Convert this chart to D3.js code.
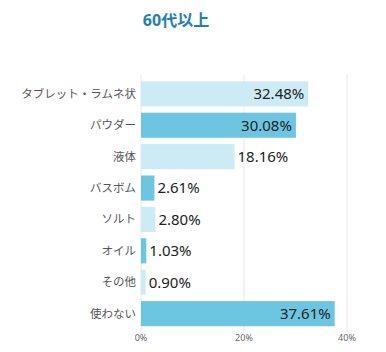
<!DOCTYPE html>
<html>
<head>
<meta charset="utf-8">
<script src="https://cdn.jsdelivr.net/npm/d3@7"></script>
<style>
  body { margin: 0; background: #fff; }
  text { font-family: "Noto Sans", "Noto Sans CJK JP", sans-serif; }
</style>
</head>
<body>
<svg id="chart"></svg>
<script>
const title = "60代以上";
const categories = ["タブレット・ラムネ状", "パウダー", "液体", "バスボム", "ソルト", "オイル", "その他", "使わない"];
const values = [32.48, 30.08, 18.16, 2.61, 2.80, 1.03, 0.90, 37.61];
const tickValues = [0, 20, 40];

const width = 386, height = 352;
const svg = d3.select("#chart").attr("width", width).attr("height", height);

const x = d3.scaleLinear().domain([0, 40]).range([141, 347]);
const y = d3.scaleBand().domain(categories).range([75, 332.5])
  .paddingInner(0.2).paddingOuter(0.2);

svg.append("text")
  .attr("x", 176).attr("y", 26)
  .attr("text-anchor", "middle")
  .attr("font-size", 16).attr("font-weight", "bold")
  .attr("fill", "#1f7fb3")
  .text(title);

// grid
svg.append("g").selectAll("line").data(tickValues).join("line")
  .attr("x1", d => x(d)).attr("x2", d => x(d))
  .attr("y1", 75).attr("y2", 332)
  .attr("stroke", "#e8e8e8");

svg.append("g").selectAll("text").data(tickValues).join("text")
  .attr("x", d => x(d)).attr("y", 341)
  .attr("text-anchor", "middle")
  .attr("font-size", 9).attr("fill", "#666")
  .text(d => d + "%");

const data = categories.map((c, i) => ({ c, v: values[i], i }));

svg.append("g").selectAll("rect").data(data).join("rect")
  .attr("x", x(0))
  .attr("y", d => y(d.c))
  .attr("width", d => x(d.v) - x(0))
  .attr("height", y.bandwidth())
  .attr("fill", d => d.i % 2 ? "#6cc6e2" : "#cdebf5");

svg.append("g").selectAll("text").data(data).join("text")
  .attr("x", 136)
  .attr("y", d => y(d.c) + y.bandwidth() / 2)
  .attr("dy", "0.35em")
  .attr("text-anchor", "end")
  .attr("font-size", 11.5).attr("fill", "#555")
  .text(d => d.c);

svg.append("g").selectAll("text").data(data).join("text")
  .attr("x", d => d.v > 20 ? x(d.v) - 4 : x(d.v) + 3)
  .attr("y", d => y(d.c) + y.bandwidth() / 2)
  .attr("dy", "0.36em")
  .attr("text-anchor", d => d.v > 20 ? "end" : "start")
  .attr("font-size", 15).attr("fill", "#222")
  .text(d => d.v.toFixed(2) + "%");
</script>
</body>
</html>
